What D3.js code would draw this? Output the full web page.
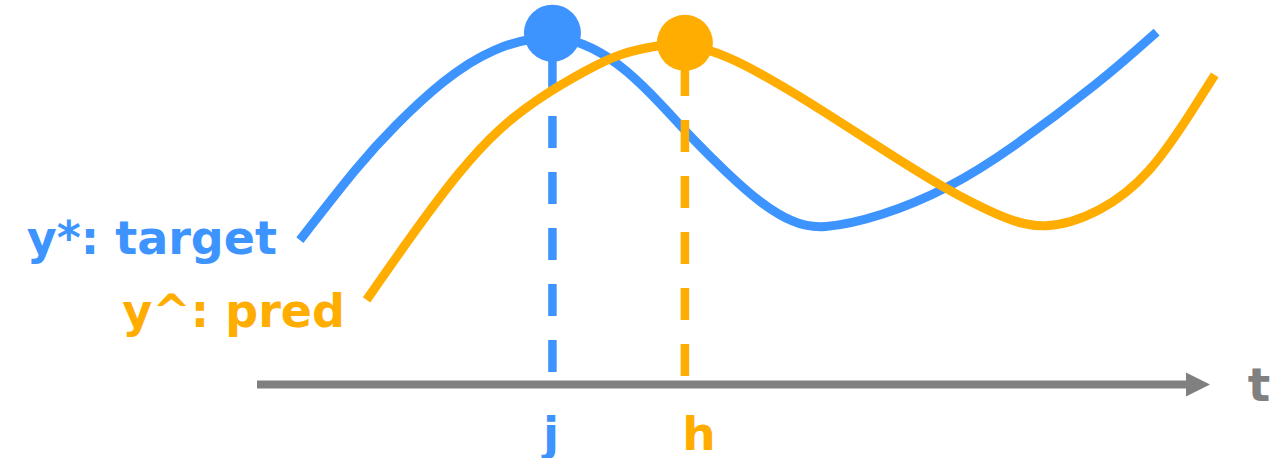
<!DOCTYPE html>
<html>
<head>
<meta charset="utf-8">
<script src="https://cdn.jsdelivr.net/npm/d3@7"></script>
<style>
  html, body { margin: 0; padding: 0; background: #fff; }
  svg { display: block; }
  text { font-family: "DejaVu Sans", Verdana, sans-serif; font-weight: bold; }
</style>
</head>
<body>
<svg id="chart" width="1272" height="458"></svg>
<script>
// time samples and signal values (0..100 scale)
const targetT = [4.5, 10.8, 14.3, 19.5, 24.8, 31.0, 35.3, 38.8, 42.3, 45.8, 49.3, 52.8, 56.2, 59.1, 65.4, 72.7, 79.0, 88.5, 94.4];
const targetV = [40.1, 61.5, 71.5, 84.6, 93.8, 97.6, 93.8, 87.4, 78.2, 67.9, 58.8, 50.4, 44.9, 43.0, 46.5, 54.6, 65.1, 84.0, 97.9];

const predT = [11.5, 16.1, 21.3, 25.5, 29.7, 34.6, 38.1, 42.3, 44.9, 49.3, 54.6, 59.1, 65.4, 72.0, 78.0, 82.5, 88.5, 93.7, 98.2, 100.5];
const predV = [23.5, 41.0, 59.6, 71.5, 79.9, 87.4, 92.1, 94.3, 94.9, 91.5, 83.8, 76.5, 65.7, 54.6, 46.5, 42.6, 47.6, 58.2, 76.3, 86.0];

// peak positions of each series (time, value)
const peakT = [31.0, 44.9];
const peakV = [97.6, 94.9];

const seriesNames = ["y*: target", "y^: pred"];
const peakLabels = ["j", "h"];
const axisLabel = "t";

const blue = "#3d94ff";
const orange = "#ffad00";
const grey = "#808080";

const svg = d3.select("#chart");

const x = d3.scaleLinear().domain([0, 100]).range([257, 1210]);
const y = d3.scaleLinear().domain([0, 100]).range([384.5, 24.5]);

const line = d3.line()
  .x(d => x(d[0]))
  .y(d => y(d[1]))
  .curve(d3.curveBasis);

const series = [
  { t: targetT, v: targetV, color: blue, r: 28.5, dashGap: 12.5 },
  { t: predT, v: predV, color: orange, r: 28, dashGap: 8.5 }
];

series.forEach((s, i) => {
  const pts = s.t.map((t, k) => [t, s.v[k]]);
  svg.append("path")
    .attr("d", line(pts))
    .attr("fill", "none")
    .attr("stroke", s.color)
    .attr("stroke-width", 9);

  // dashed drop line drawn upward from just above the axis to the peak
  svg.append("line")
    .attr("x1", x(peakT[i]))
    .attr("x2", x(peakT[i]))
    .attr("y1", y(0) - s.dashGap)
    .attr("y2", y(peakV[i]))
    .attr("stroke", s.color)
    .attr("stroke-width", 8.5)
    .attr("stroke-dasharray", "32,24");

  svg.append("circle")
    .attr("cx", x(peakT[i]))
    .attr("cy", y(peakV[i]))
    .attr("r", s.r)
    .attr("fill", s.color);
});

// time axis with arrow head
const axisY = y(0);
const tipX = x(100);
svg.append("line")
  .attr("x1", x(0)).attr("x2", tipX - 24)
  .attr("y1", axisY).attr("y2", axisY)
  .attr("stroke", grey)
  .attr("stroke-width", 8);
svg.append("path")
  .attr("d", d3.line()([[tipX - 24, axisY - 12], [tipX, axisY], [tipX - 24, axisY + 12]]) + "Z")
  .attr("fill", grey);

svg.append("text")
  .attr("x", 1259).attr("y", 401)
  .attr("text-anchor", "middle")
  .attr("font-size", 47)
  .attr("fill", grey)
  .text(axisLabel);

// series labels
svg.append("text")
  .attr("x", 277).attr("y", 254)
  .attr("text-anchor", "end")
  .attr("font-size", 46)
  .attr("fill", blue)
  .text(seriesNames[0]);
svg.append("text")
  .attr("x", 345).attr("y", 327)
  .attr("text-anchor", "end")
  .attr("font-size", 46)
  .attr("fill", orange)
  .text(seriesNames[1]);

// peak time labels
svg.append("text")
  .attr("x", 551).attr("y", 450)
  .attr("text-anchor", "middle")
  .attr("font-size", 47)
  .attr("fill", blue)
  .text(peakLabels[0]);
svg.append("text")
  .attr("x", 699).attr("y", 450)
  .attr("text-anchor", "middle")
  .attr("font-size", 47)
  .attr("fill", orange)
  .text(peakLabels[1]);
</script>
</body>
</html>
